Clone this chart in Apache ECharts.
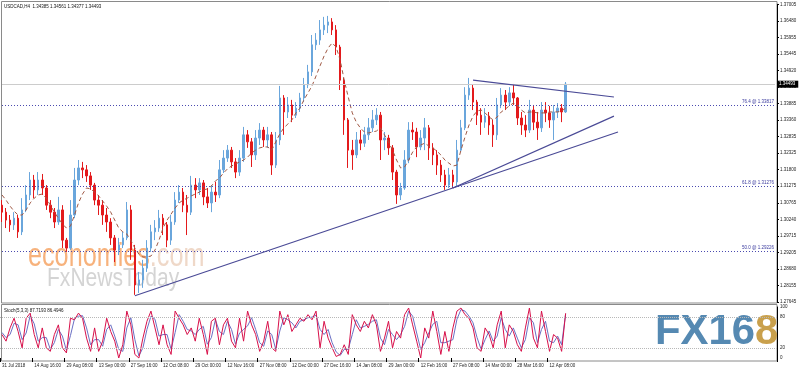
<!DOCTYPE html>
<html><head><meta charset="utf-8">
<script src="https://cdn.jsdelivr.net/npm/echarts@6.0.0/dist/echarts.min.js"></script>
<style>html,body{margin:0;padding:0;background:#fff}#c{width:800px;height:372px}</style>
</head><body><div id="c"></div>
<script>
const xTickLabels = ["31 Jul 2018","14 Aug 16:00","29 Aug 08:00","13 Sep 00:00","27 Sep 16:00","12 Oct 08:00","29 Oct 00:00","12 Nov 16:00","27 Nov 08:00","12 Dec 00:00","27 Dec 16:00","14 Jan 08:00","29 Jan 00:00","12 Feb 16:00","27 Feb 08:00","14 Mar 00:00","28 Mar 16:00","12 Apr 08:00"];
const barsPerTick = 8;
const slotCount = 193;
const yTickLabels = ["1.27645","1.28155","1.28680","1.29205","1.29715","1.30240","1.30765","1.31275","1.31800","1.32325","1.32835","1.33360","1.33885","1.34395","1.34920","1.35445","1.35955","1.36480","1.37005"];
const stochTickLabels = [0, 20, 80, 100];

const opens = [
1.3069,1.3047,1.3022,1.3007,1.3028,1.2985,1.3054,1.3101,1.3148,1.3117,
1.3148,1.3123,1.3069,1.3047,1.3016,1.3054,1.2959,1.2934,1.3038,1.3148,
1.3186,1.3180,1.3161,1.3132,1.3085,1.3069,1.3038,1.3016,1.2966,1.2928,
1.2944,1.2966,1.3054,1.2928,1.2818,1.2834,1.2871,1.2934,1.2985,1.2997,
1.3028,1.3007,1.2959,1.3016,1.3085,1.3110,1.3069,1.3047,1.3132,1.3117,
1.3139,1.3095,1.3076,1.3110,1.3101,1.3180,1.3217,1.3242,1.3205,1.3173,
1.3217,1.3290,1.3268,1.3227,1.3280,1.3305,1.3274,1.3290,1.3195,1.3274,
1.3406,1.3362,1.3384,1.3352,1.3374,1.3406,1.3447,1.3488,1.3573,1.3588,
1.3620,1.3635,1.3645,1.3620,1.3566,1.3462,1.3337,1.3242,1.3227,1.3274,
1.3264,1.3290,1.3312,1.3337,1.3352,1.3274,1.3280,1.3249,1.3173,1.3101,
1.3123,1.3211,1.3305,1.3299,1.3252,1.3280,1.3312,1.3249,1.3227,1.3195,
1.3164,1.3132,1.3164,1.3142,1.3242,1.3312,1.3415,1.3437,1.3393,1.3352,
1.3330,1.3349,1.3321,1.3290,1.3384,1.3415,1.3393,1.3422,1.3406,1.3343,
1.3321,1.3305,1.3368,1.3330,1.3312,1.3368,1.3359,1.3337,1.3362,1.3374,
1.3362];
const highs = [
1.3085,1.3060,1.3038,1.3047,1.3038,1.3091,1.3132,1.3173,1.3164,1.3173,
1.3167,1.3132,1.3085,1.3060,1.3095,1.3069,1.2966,1.3085,1.3186,1.3211,
1.3205,1.3195,1.3173,1.3139,1.3101,1.3085,1.3060,1.3028,1.2975,1.2966,
1.2985,1.3079,1.3069,1.2944,1.2859,1.2897,1.2959,1.3007,1.3022,1.3054,
1.3041,1.3016,1.3038,1.3110,1.3132,1.3123,1.3101,1.3161,1.3154,1.3154,
1.3148,1.3123,1.3132,1.3142,1.3211,1.3242,1.3258,1.3252,1.3217,1.3242,
1.3315,1.3305,1.3280,1.3305,1.3327,1.3315,1.3315,1.3299,1.3299,1.3444,
1.3415,1.3409,1.3400,1.3393,1.3422,1.3469,1.3510,1.3604,1.3610,1.3651,
1.3661,1.3664,1.3657,1.3635,1.3573,1.3469,1.3343,1.3274,1.3299,1.3305,
1.3315,1.3343,1.3368,1.3374,1.3362,1.3299,1.3290,1.3258,1.3180,1.3139,
1.3242,1.3330,1.3330,1.3312,1.3305,1.3343,1.3321,1.3264,1.3242,1.3211,
1.3180,1.3186,1.3180,1.3274,1.3337,1.3440,1.3469,1.3447,1.3400,1.3374,
1.3374,1.3362,1.3337,1.3406,1.3437,1.3431,1.3440,1.3450,1.3409,1.3362,
1.3352,1.3400,1.3384,1.3362,1.3393,1.3393,1.3381,1.3384,1.3390,1.3387,
1.34561];
const lows = [
1.3016,1.2997,1.2985,1.2991,1.2966,1.2975,1.3047,1.3085,1.3091,1.3101,
1.3101,1.3054,1.3028,1.2997,1.3007,1.2934,1.2922,1.2928,1.3028,1.3132,
1.3154,1.3142,1.3117,1.3069,1.3038,1.3007,1.2985,1.2944,1.2890,1.2912,
1.2934,1.2959,1.2897,1.2787,1.2793,1.2809,1.2859,1.2922,1.2959,1.2985,
1.2975,1.2937,1.2944,1.3007,1.3076,1.3047,1.2975,1.3038,1.3091,1.3101,
1.3069,1.3060,1.3047,1.3079,1.3091,1.3170,1.3205,1.3186,1.3154,1.3161,
1.3205,1.3249,1.3189,1.3211,1.3258,1.3252,1.3249,1.3164,1.3186,1.3258,
1.3290,1.3343,1.3330,1.3343,1.3362,1.3393,1.3437,1.3475,1.3557,1.3573,
1.3604,1.3610,1.3604,1.3541,1.3431,1.3290,1.3186,1.3180,1.3217,1.3242,
1.3252,1.3274,1.3299,1.3321,1.3211,1.3242,1.3227,1.3148,1.3073,1.3085,
1.3117,1.3201,1.3274,1.3220,1.3242,1.3242,1.3211,1.3195,1.3164,1.3142,
1.3117,1.3123,1.3123,1.3129,1.3236,1.3305,1.3400,1.3368,1.3321,1.3290,
1.3312,1.3290,1.3252,1.3274,1.3374,1.3368,1.3384,1.3384,1.3321,1.3290,
1.3283,1.3296,1.3305,1.3274,1.3299,1.3330,1.3312,1.3274,1.3343,1.3330,
1.3359];
const closes = [
1.3047,1.3022,1.3007,1.3028,1.2985,1.3054,1.3101,1.3148,1.3117,1.3148,
1.3123,1.3069,1.3047,1.3016,1.3054,1.2959,1.2934,1.3038,1.3148,1.3186,
1.3180,1.3161,1.3132,1.3085,1.3069,1.3038,1.3016,1.2966,1.2928,1.2944,
1.2966,1.3054,1.2928,1.2818,1.2834,1.2871,1.2934,1.2985,1.2997,1.3028,
1.3007,1.2959,1.3016,1.3085,1.3110,1.3069,1.3047,1.3132,1.3117,1.3139,
1.3095,1.3076,1.3110,1.3101,1.3180,1.3217,1.3242,1.3205,1.3173,1.3217,
1.3290,1.3268,1.3227,1.3280,1.3305,1.3274,1.3290,1.3195,1.3274,1.3406,
1.3362,1.3384,1.3352,1.3374,1.3406,1.3447,1.3488,1.3573,1.3588,1.3620,
1.3635,1.3645,1.3620,1.3566,1.3462,1.3337,1.3242,1.3227,1.3274,1.3264,
1.3290,1.3312,1.3337,1.3352,1.3274,1.3280,1.3249,1.3173,1.3101,1.3123,
1.3211,1.3305,1.3299,1.3252,1.3280,1.3312,1.3249,1.3227,1.3195,1.3164,
1.3132,1.3164,1.3142,1.3242,1.3312,1.3415,1.3437,1.3393,1.3352,1.3330,
1.3349,1.3321,1.3290,1.3384,1.3415,1.3393,1.3422,1.3406,1.3343,1.3321,
1.3305,1.3368,1.3330,1.3312,1.3368,1.3359,1.3337,1.3362,1.3374,1.3362,
1.34493];
const maValues = [
1.3101,1.3085,1.3066,1.3050,1.3038,1.3038,1.3054,1.3076,1.3091,1.3101,
1.3104,1.3091,1.3069,1.3047,1.3028,1.3010,1.2997,1.3003,1.3038,1.3076,
1.3104,1.3123,1.3120,1.3110,1.3098,1.3082,1.3066,1.3047,1.3022,1.2997,
1.2985,1.2978,1.2959,1.2934,1.2915,1.2906,1.2906,1.2909,1.2928,1.2959,
1.2997,1.3022,1.3041,1.3060,1.3076,1.3085,1.3091,1.3098,1.3104,1.3110,
1.3117,1.3120,1.3129,1.3145,1.3154,1.3170,1.3183,1.3192,1.3198,1.3205,
1.3211,1.3220,1.3233,1.3242,1.3249,1.3252,1.3252,1.3242,1.3268,1.3293,
1.3312,1.3324,1.3337,1.3359,1.3374,1.3400,1.3422,1.3444,1.3475,1.3507,
1.3538,1.3563,1.3579,1.3566,1.3525,1.3462,1.3409,1.3359,1.3330,1.3312,
1.3299,1.3296,1.3299,1.3302,1.3312,1.3290,1.3268,1.3242,1.3211,1.3186,
1.3189,1.3211,1.3236,1.3252,1.3258,1.3264,1.3255,1.3249,1.3239,1.3227,
1.3211,1.3201,1.3192,1.3195,1.3242,1.3283,1.3321,1.3349,1.3365,1.3368,
1.3359,1.3346,1.3337,1.3346,1.3362,1.3371,1.3381,1.3390,1.3384,1.3368,
1.3359,1.3362,1.3362,1.3359,1.3359,1.3359,1.3362,1.3362,1.3362,1.3365,
1.3374];
const stochK = [
46,33,59,78,52,20,78,88,46,20,
59,20,13,46,65,20,10,78,75,88,
78,39,13,59,13,33,78,52,33,0,
26,92,65,7,0,39,72,92,59,26,
65,26,7,92,78,65,46,59,33,78,
46,7,72,78,26,65,78,33,20,78,
33,92,65,46,13,33,72,20,13,92,
65,85,52,65,78,72,85,75,92,20,
72,39,20,3,7,26,7,85,65,52,
72,59,85,65,13,39,72,20,52,39,
85,98,65,33,0,59,39,92,52,7,
52,13,59,92,98,85,78,59,20,13,
59,46,20,65,92,20,65,52,26,13,
59,98,39,20,92,52,13,46,39,13,
87.7193];
const stochD = [
50,40,46,68,65,36,49,83,67,33,
40,40,17,30,56,43,15,44,77,82,
83,59,26,36,36,23,56,65,43,17,
13,59,79,36,4,20,56,82,76,43,
46,46,17,50,85,72,56,53,46,56,
62,27,40,75,52,46,72,56,27,49,
56,63,79,56,30,23,53,46,17,53,
79,75,69,59,72,75,79,80,84,56,
46,56,30,12,5,17,17,46,75,59,
62,66,72,75,39,26,56,46,36,46,
62,92,82,49,17,30,49,66,72,30,
30,33,36,76,95,92,82,69,40,17,
36,53,33,43,79,56,43,59,39,20,
36,79,69,30,56,72,33,30,43,26,
86.4946];
const fibLevels = [1.33817, 1.31276, 1.29226];
const fibNames = ["76.4 @ 1.33817", "61.8 @ 1.31276", "50.0 @ 1.29226"];
const lastPrice = 1.34493;
const trendLines = [
  [[33, 1.2784], [153, 1.3299]],
  [[112, 1.3123], [152, 1.3349]],
  [[117, 1.3462], [152, 1.3409]]
];

const slots = Array.from({length: slotCount}, (_, i) => String(i));
const candleData = closes.map((c, i) => [opens[i], c, lows[i], highs[i]]);
const yTickValues = yTickLabels.map(Number);
const FONT = '"Liberation Sans", Arial, sans-serif';
const showTick = (i) => i % barsPerTick === 0 && i / barsPerTick < xTickLabels.length;
const lastSlot = slotCount - 1;

const chart = echarts.init(document.getElementById('c'), null, {renderer: 'canvas'});
const fibColor = '#4b4bb0';
const markData = [];
markData.push([
  {coord: [0, lastPrice], lineStyle: {color: '#cccccc', type: 'solid', width: 1},
   label: {show: true, position: 'end', formatter: String(lastPrice), color: '#fff', backgroundColor: '#000', padding: [1, 3, 1, 2], fontSize: 4.5, fontFamily: FONT, distance: 2}},
  {coord: [lastSlot, lastPrice]}
]);
fibLevels.forEach((v, i) => markData.push([
  {coord: [0, v], lineStyle: {color: fibColor, type: [1, 2], width: 1},
   label: {show: true, position: 'insideEndTop', formatter: fibNames[i], color: '#3a3a9e', fontSize: 4.5, fontFamily: FONT, distance: 1}},
  {coord: [lastSlot, v]}
]));
trendLines.forEach(t => markData.push([
  {coord: t[0], lineStyle: {color: '#4a4a96', width: 1.2, type: 'solid'}, label: {show: false}},
  {coord: t[1]}
]));

chart.setOption({
  animation: false,
  backgroundColor: '#fff',
  grid: [
    {left: 0, top: 4.3, width: 777, height: 297.7, containLabel: false, outerBoundsMode: 'none'},
    {left: 0, top: 307, width: 777, height: 53.55, containLabel: false, outerBoundsMode: 'none'}
  ],
  xAxis: [
    {type: 'category', gridIndex: 0, data: slots, boundaryGap: true, axisLine: {show: false}, axisTick: {show: false}, axisLabel: {show: false}, splitLine: {show: false}},
    {type: 'category', gridIndex: 1, data: slots, boundaryGap: true, axisLine: {show: false},
     axisTick: {show: true, interval: showTick, length: 4, lineStyle: {color: '#000', width: 1}},
     axisLabel: {show: true, interval: showTick, formatter: (v, i) => xTickLabels[Math.round(Number(v) / barsPerTick)], align: 'left', fontSize: 4.5, fontFamily: FONT, color: '#222', margin: 3},
     splitLine: {show: false}}
  ],
  yAxis: [
    {type: 'value', gridIndex: 0, position: 'right', min: 1.27645, max: 1.37005, interval: 0.0052,
     splitLine: {show: false}, axisLine: {show: true, lineStyle: {color: '#000', width: 1}},
     axisTick: {show: true, length: 2, lineStyle: {color: '#000'}},
     axisLabel: {fontSize: 4.5, fontFamily: FONT, color: '#222', margin: 3, formatter: (v) => {
       let b = 0; for (let i = 1; i < yTickValues.length; i++) if (Math.abs(yTickValues[i] - v) < Math.abs(yTickValues[b] - v)) b = i; return yTickLabels[b];
     }}},
    {type: 'value', gridIndex: 1, position: 'right', min: -5, max: 100, interval: 5,
     splitLine: {show: false}, axisLine: {show: true, lineStyle: {color: '#000', width: 1}},
     axisTick: {show: false},
     axisLabel: {fontSize: 4.5, fontFamily: FONT, color: '#222', margin: 3, formatter: (v) => stochTickLabels.includes(Math.round(v)) ? String(Math.round(v)) : ''}}
  ],
  graphic: [
    {type: 'rect', silent: true, shape: {x: 1.5, y: 1.5, width: 775.5, height: 301.5}, style: {fill: 'none', stroke: '#8a8a8a', lineWidth: 1}},
    {type: 'rect', silent: true, shape: {x: 1.5, y: 304.5, width: 775.5, height: 56.5}, style: {fill: 'none', stroke: '#8a8a8a', lineWidth: 1}},
    {type: 'text', silent: true, x: 4, y: 7, style: {text: 'USDCAD,H4  1.34385 1.34561 1.34377 1.34493', font: '4.5px ' + FONT, fill: '#111', textVerticalAlign: 'middle'}},
    {type: 'text', silent: true, x: 4, y: 311, style: {text: 'Stoch(5,3,3) 87.7193 86.4946', font: '4.5px ' + FONT, fill: '#111', textVerticalAlign: 'middle'}},
    {type: 'text', silent: true, x: 28, y: 257, scaleX: 0.7, scaleY: 0.92, style: {
      text: '{a|economies}{b|.com}', textVerticalAlign: 'middle', font: '36px ' + FONT,
      rich: {a: {fill: '#f7b27c', fontSize: 36, fontFamily: FONT}, b: {fill: '#efd8c8', fontSize: 36, fontFamily: FONT}}}},
    {type: 'text', silent: true, x: 47, y: 279, scaleX: 0.81, style: {text: 'FxNewsToday', font: '26px ' + FONT, fill: '#d4d4d4', textVerticalAlign: 'middle'}},
    {type: 'text', silent: true, x: 655, y: 332, scaleX: 0.91, scaleY: 0.92, style: {
      text: '{b|FX16}{g|8}', textVerticalAlign: 'middle', font: 'bold 46px ' + FONT,
      rich: {b: {fill: '#5589b2', fontSize: 46, fontWeight: 'bold', fontFamily: FONT}, g: {fill: '#c9a04c', fontSize: 46, fontWeight: 'bold', fontFamily: FONT}}}}
  ],
  series: [
    {type: 'candlestick', xAxisIndex: 0, yAxisIndex: 0, data: candleData, barWidth: 2,
     itemStyle: {color: '#6aa6dc', color0: '#e31a1c', borderColor: '#6aa6dc', borderColor0: '#e31a1c', borderWidth: 1},
     markLine: {silent: true, symbol: ['none', 'none'], animation: false, data: markData}},
    {type: 'line', xAxisIndex: 0, yAxisIndex: 0, data: maValues, showSymbol: false, symbol: 'none',
     lineStyle: {color: '#a05a46', width: 1, type: [4, 3]}, z: 3},
    {type: 'line', xAxisIndex: 1, yAxisIndex: 1, data: stochD, showSymbol: false, symbol: 'none',
     lineStyle: {color: '#6a70c4', width: 1}},
    {type: 'line', xAxisIndex: 1, yAxisIndex: 1, data: stochK, showSymbol: false, symbol: 'none',
     lineStyle: {color: '#d8104a', width: 1},
     markLine: {silent: true, symbol: ['none', 'none'], label: {show: false},
       data: [{yAxis: 20}, {yAxis: 80}], lineStyle: {color: '#b8b8b8', type: 'dotted', width: 1}}}
  ]
});
</script>
</body></html>
